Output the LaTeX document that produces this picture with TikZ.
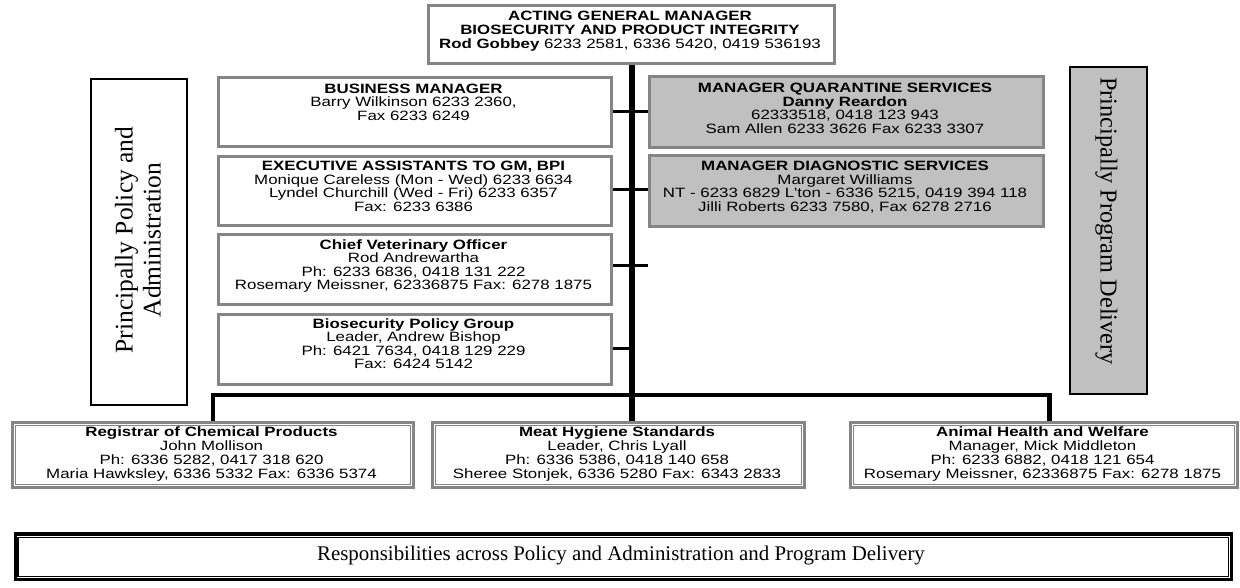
\documentclass[tikz,border=0pt]{standalone}
\usepackage{fontspec}
\newfontfamily\orgfont[FakeStretch=1.25]{Liberation Sans}
\newfontfamily\sidefont{Liberation Serif}
\definecolor{boxgray}{HTML}{858585}
\definecolor{fillgray}{HTML}{C0C0C0}
\tikzset{
  orgbox/.style={draw=boxgray, line width=3pt, inner sep=0pt, anchor=north west, fill=white},
  graybox/.style={orgbox, fill=fillgray},
  orgtext/.style={font=\orgfont\fontsize{13.5}{13.5}\selectfont, align=center, inner sep=0pt, anchor=north},
  lowtext/.style={font=\orgfont\fontsize{13.5}{14}\selectfont, align=center, inner sep=0pt, anchor=north},
  toptext/.style={font=\orgfont\fontsize{13.5}{14.2}\selectfont, align=center, inner sep=0pt, anchor=north},
  sidebox/.style={draw=black, line width=1.5pt, inner sep=0pt, anchor=north west},
  sidetext/.style={font=\sidefont\fontsize{25.5}{28}\selectfont, align=center, inner sep=0pt},
  conn/.style={draw=black, line width=3pt},
  trunkline/.style={draw=black, line width=6pt},
  barline/.style={draw=black, line width=4.5pt},
  innerline/.style={draw=boxgray, line width=0.9pt},
}
\begin{document}
\begin{tikzpicture}[x=1pt,y=-1pt]
\useasboundingbox (0,0) rectangle (1240,587);

% side boxes
\node[sidebox, fill=white, minimum width=96pt, minimum height=326pt] (lside) at (90,78) {};
\node[sidetext, rotate=90] (lsidet) at (138,240) {Principally Policy and\\Administration};
\node[sidebox, fill=fillgray, line width=2pt, minimum width=77pt, minimum height=327pt] (rside) at (1069,66) {};
\node[sidetext, font=\sidefont\fontsize{24.3}{28}\selectfont, rotate=-90] (rsidet) at (1106.5,221) {Principally Program Delivery};

% top box
\node[orgbox, minimum width=406pt, minimum height=58pt] (top) at (427,4) {};
\node[toptext] (topt) at (630,10.5) {\textbf{ACTING GENERAL MANAGER}\\\textbf{BIOSECURITY AND PRODUCT INTEGRITY}\\\textbf{Rod Gobbey} 6233 2581, 6336 5420, 0419 536193};

% left column
\node[orgbox, minimum width=393pt, minimum height=69pt] (bm) at (217,76) {};
\node[orgtext] (bmt) at (413.5,83.5) {\textbf{BUSINESS MANAGER}\\Barry Wilkinson 6233 2360,\\Fax 6233 6249};

\node[orgbox, minimum width=393pt, minimum height=69pt] (ea) at (217,155) {};
\node[orgtext] (eat) at (413.5,161) {\textbf{EXECUTIVE ASSISTANTS TO GM, BPI}\\Monique Careless (Mon - Wed) 6233 6634\\Lyndel Churchill (Wed - Fri) 6233 6357\\Fax: 6233 6386};

\node[orgbox, minimum width=393pt, minimum height=70pt] (cvo) at (217,233) {};
\node[orgtext] (cvot) at (413.5,239.5) {\textbf{Chief Veterinary Officer}\\Rod Andrewartha\\Ph: 6233 6836, 0418 131 222\\Rosemary Meissner, 62336875 Fax: 6278 1875};

\node[orgbox, minimum width=393pt, minimum height=70pt] (bpg) at (217,313) {};
\node[orgtext] (bpgt) at (413.5,318.5) {\textbf{Biosecurity Policy Group}\\Leader, Andrew Bishop\\Ph: 6421 7634, 0418 129 229\\Fax: 6424 5142};

% right column
\node[graybox, minimum width=394pt, minimum height=71pt] (mqs) at (648,75) {};
\node[orgtext] (mqst) at (845,83) {\textbf{MANAGER QUARANTINE SERVICES}\\\textbf{Danny Reardon}\\62333518, 0418 123 943\\Sam Allen 6233 3626 Fax 6233 3307};

\node[graybox, minimum width=394pt, minimum height=71pt] (mds) at (648,154) {};
\node[orgtext] (mdst) at (845,161) {\textbf{MANAGER DIAGNOSTIC SERVICES}\\Margaret Williams\\NT - 6233 6829 L'ton - 6336 5215, 0419 394 118\\Jilli Roberts 6233 7580, Fax 6278 2716};

% bottom row
\node[orgbox, line width=2.6pt, minimum width=401pt, minimum height=65pt] (reg) at (11,421) {};
\draw[innerline] ([shift={(4.5pt,-4.5pt)}]reg.north west) rectangle ([shift={(-4.5pt,4.5pt)}]reg.south east);
\node[lowtext] (regt) at (211.5,426.5) {\textbf{Registrar of Chemical Products}\\John Mollison\\Ph: 6336 5282, 0417 318 620\\Maria Hawksley, 6336 5332 Fax: 6336 5374};

\node[orgbox, line width=2.6pt, minimum width=372pt, minimum height=65pt] (meat) at (431,421) {};
\draw[innerline] ([shift={(4.5pt,-4.5pt)}]meat.north west) rectangle ([shift={(-4.5pt,4.5pt)}]meat.south east);
\node[lowtext] (meatt) at (617,426.5) {\textbf{Meat Hygiene Standards}\\Leader, Chris Lyall\\Ph: 6336 5386, 0418 140 658\\Sheree Stonjek, 6336 5280 Fax: 6343 2833};

\node[orgbox, line width=2.6pt, minimum width=387pt, minimum height=65pt] (ahw) at (849,421) {};
\draw[innerline] ([shift={(4.5pt,-4.5pt)}]ahw.north west) rectangle ([shift={(-4.5pt,4.5pt)}]ahw.south east);
\node[lowtext] (ahwt) at (1042.5,426.5) {\textbf{Animal Health and Welfare}\\Manager, Mick Middleton\\Ph: 6233 6882, 0418 121 654\\Rosemary Meissner, 62336875 Fax: 6278 1875};

% responsibilities box
\node[draw=black, line width=3.3pt, inner sep=0pt, anchor=north west, minimum width=1216.5pt, minimum height=45.5pt] (resp) at (13.5,532.3) {};
\draw[black, line width=1.3pt] ([shift={(4.5pt,-5pt)}]resp.north west) rectangle ([shift={(-4.5pt,4.7pt)}]resp.south east);
\node[font=\sidefont\fontsize{20.9}{24}\selectfont, inner sep=0pt, anchor=base] (respt) at (621,560) {Responsibilities across Policy and Administration and Program Delivery};

% connectors
\coordinate (barY) at (630,395);
\draw[trunkline] (top.south) -- (top.south |- meat.north);
\draw[barline] (reg.north) -- (reg.north |- barY) -| ([xshift=5.5pt]ahw.north);
\draw[conn] ([yshift=0.5pt]bm.east) -- ([yshift=0.5pt]bm.east -| top.south);
\draw[conn] ([yshift=1.5pt]ea.east) -- ([yshift=1.5pt]ea.east -| top.south);
\draw[conn] ([yshift=4.5pt]cvo.east) -- ([yshift=4.5pt]cvo.east -| mqs.west);
\draw[conn] ([yshift=1pt]bpg.east) -- ([yshift=1pt]bpg.east -| top.south);
\draw[conn] ([yshift=0.5pt]mqs.west) -- ([yshift=0.5pt]mqs.west -| top.south);
\draw[conn] ([yshift=1.5pt]mds.west) -- ([yshift=1.5pt]mds.west -| top.south);
\end{tikzpicture}
\end{document}
